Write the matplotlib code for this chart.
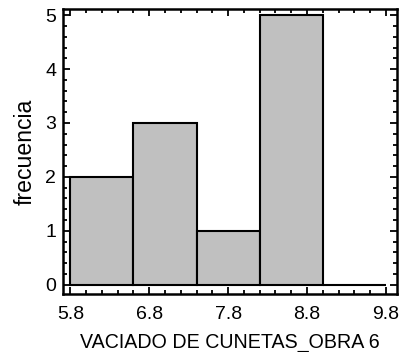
import matplotlib
matplotlib.use("Agg")
import matplotlib.pyplot as plt
from matplotlib.ticker import MultipleLocator

bin_edges = [5.8, 6.6, 7.4, 8.2, 9.0, 9.8]
counts = [2, 3, 1, 5, 0]
x_ticks = [5.8, 6.8, 7.8, 8.8, 9.8]
y_ticks = [0, 1, 2, 3, 4, 5]
x_label = "VACIADO DE CUNETAS_OBRA 6"
y_label = "frecuencia"

plt.rcParams['font.family'] = ['Liberation Sans', 'DejaVu Sans']

fig = plt.figure(figsize=(4.04, 3.52), dpi=100)
ax = fig.add_axes([63.3/404, 1-293.5/352, (396.7-63.3)/404, (293.5-9.3)/352])

lefts = bin_edges[:-1]
widths = [b - a for a, b in zip(bin_edges[:-1], bin_edges[1:])]
ax.bar(lefts, counts, width=widths, align='edge', color='#c0c0c0',
       edgecolor='black', linewidth=1.5, zorder=2)

ax.set_xlim(5.711, 9.936)
ax.set_ylim(-0.165, 5.11)
ax.set_xticks(x_ticks)
ax.set_xticklabels([f"{v:.1f}" for v in x_ticks])
ax.set_yticks(y_ticks)
ax.xaxis.set_minor_locator(MultipleLocator(0.2))
ax.yaxis.set_minor_locator(MultipleLocator(0.2))
ax.tick_params(which='both', direction='in', top=True, right=True, width=1.3, colors='black')
ax.tick_params(which='major', length=5, labelsize=14)
ax.tick_params(axis='x', which='major', pad=9)
ax.tick_params(axis='y', which='major', pad=5)
ax.tick_params(which='minor', length=3)
for s in ax.spines.values():
    s.set_linewidth(1.8)

ax.set_xlabel(x_label, fontsize=14.1, labelpad=7)
ax.set_ylabel(y_label, fontsize=16.6, labelpad=6)

fig.savefig("out.png", dpi=100)
